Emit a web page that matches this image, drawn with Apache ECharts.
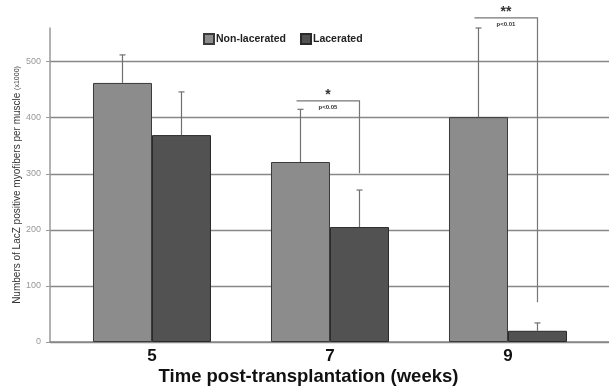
<!DOCTYPE html>
<html><head><meta charset="utf-8">
<script src="https://cdn.jsdelivr.net/npm/echarts@6/dist/echarts.min.js"></script>
<style>html,body{margin:0;padding:0;background:#fff}#c{width:609px;height:386px}</style>
</head><body><div id="c"></div>
<script>
var weeks = [5, 7, 9];
var nonLacerated = [462, 321, 401];
var lacerated = [369, 205, 20];
var nonLaceratedUpper = [512, 415, 560];
var laceratedUpper = [446, 271, 34];
var yTicks = [0, 100, 200, 300, 400, 500];
// significance brackets: week, bracket level, right-leg bottom, star, p text
var sigWeeks = [7, 9];
var sigTop = [430, 578];
var sigLegBottom = [301, 71];
var sigStars = ['*', '**'];
var sigText = ['p<0.05', 'p<0.01'];

var BW = 59;
var chart = echarts.init(document.getElementById('c'));

function errSeries(name, vals, upper, off) {
  return {
    type: 'custom', name: name + ' err', silent: true, z: 5,
    data: weeks.map(function (w, i) { return [w, vals[i], upper[i]]; }),
    renderItem: function (params, api) {
      var p0 = api.coord([api.value(0), api.value(1)]);
      var p1 = api.coord([api.value(0), api.value(2)]);
      var x = p0[0] + off;
      var st = { stroke: '#707070', lineWidth: 1.2 };
      return { type: 'group', children: [
        { type: 'line', shape: { x1: x, y1: p0[1], x2: x, y2: p1[1] }, style: st },
        { type: 'line', shape: { x1: x - 3, y1: p1[1], x2: x + 3, y2: p1[1] }, style: st }
      ]};
    }
  };
}

chart.setOption({
  animation: false,
  grid: { left: 50, right: 0, top: 28, bottom: 44, outerBoundsMode: 'none', containLabel: false },
  legend: {
    left: 203, top: 33, padding: 0, itemWidth: 10, itemHeight: 10, itemGap: 14,
    icon: 'rect',
    textStyle: { fontFamily: 'Liberation Sans', fontWeight: 'bold', fontSize: 10.5, color: '#222', padding: [0, 0, 0, -3] },
    data: ['Non-lacerated', 'Lacerated']
  },
  xAxis: {
    type: 'value', min: 3.854, max: 10.135,
    name: 'Time post-transplantation (weeks)', nameLocation: 'middle', nameGap: 25, nameMoveOverlap: false,
    nameTextStyle: { fontFamily: 'Liberation Sans', fontWeight: 'bold', fontSize: 18.5, color: '#111', padding: [0, 42, 0, 0] },
    axisLine: { lineStyle: { color: '#888', width: 1.5 } },
    axisTick: { show: false },
    splitLine: { show: false },
    axisLabel: { customValues: weeks, fontFamily: 'Liberation Sans', fontWeight: 'bold', fontSize: 17, color: '#111', margin: 6 }
  },
  yAxis: {
    type: 'value', min: 0, max: 560, interval: 100,
    name: 'Numbers of LacZ positive myofibers per muscle {s|(x1000)}', nameLocation: 'middle', nameGap: 28, nameRotate: 90, nameMoveOverlap: false,
    nameTextStyle: { fontFamily: 'Liberation Sans', fontSize: 10, color: '#333',
      rich: { s: { fontFamily: 'Liberation Sans', fontSize: 7, color: '#333' } } },
    axisLine: { show: true, lineStyle: { color: '#999', width: 1.5 } },
    axisTick: { show: true, length: 4, customValues: yTicks, lineStyle: { color: '#999' } },
    axisLabel: { customValues: yTicks, fontFamily: 'Liberation Sans', fontSize: 9, color: '#999', margin: 9 },
    splitLine: { show: true, lineStyle: { color: ['#888', '#888', '#888', '#888', '#888', '#888', 'rgba(0,0,0,0)'], width: 1.3 } }
  },
  series: [
    { name: 'Non-lacerated', type: 'bar', barWidth: BW, barGap: '0%', z: 3,
      itemStyle: { color: '#8c8c8c', borderColor: '#3a3a3a', borderWidth: 1 },
      data: weeks.map(function (w, i) { return [w, nonLacerated[i]]; }) },
    { name: 'Lacerated', type: 'bar', barWidth: BW, barGap: '0%', z: 3,
      itemStyle: { color: '#525252', borderColor: '#2a2a2a', borderWidth: 1 },
      data: weeks.map(function (w, i) { return [w, lacerated[i]]; }) },
    errSeries('Non-lacerated', nonLacerated, nonLaceratedUpper, -BW / 2),
    errSeries('Lacerated', lacerated, laceratedUpper, BW / 2),
    {
      type: 'custom', name: 'sig', silent: true, z: 6, clip: false,
      data: sigWeeks.map(function (w, i) { return [w, sigTop[i], sigLegBottom[i], i]; }),
      renderItem: function (params, api) {
        var pTop = api.coord([api.value(0), api.value(1)]);
        var pBot = api.coord([api.value(0), api.value(2)]);
        var i = api.value(3);
        var xl = pTop[0] - BW / 2 - 4, xr = pTop[0] + BW / 2;
        var st = { stroke: '#777', lineWidth: 1.2, fill: null };
        var cx = (xl + xr) / 2;
        return { type: 'group', children: [
          { type: 'polyline', shape: { points: [[xl, pTop[1]], [xr, pTop[1]], [xr, pBot[1]]] }, style: st },
          { type: 'text', style: { text: sigStars[i], x: cx, y: pTop[1] + 1, align: 'center', verticalAlign: 'bottom', fontFamily: 'Liberation Sans', fontWeight: 'bold', fontSize: 14, fill: '#333' } },
          { type: 'text', style: { text: sigText[i], x: cx, y: pTop[1] + 3, align: 'center', verticalAlign: 'top', fontFamily: 'Liberation Sans', fontWeight: 'bold', fontSize: 6, fill: '#333' } }
        ]};
      }
    }
  ]
});
</script></body></html>
